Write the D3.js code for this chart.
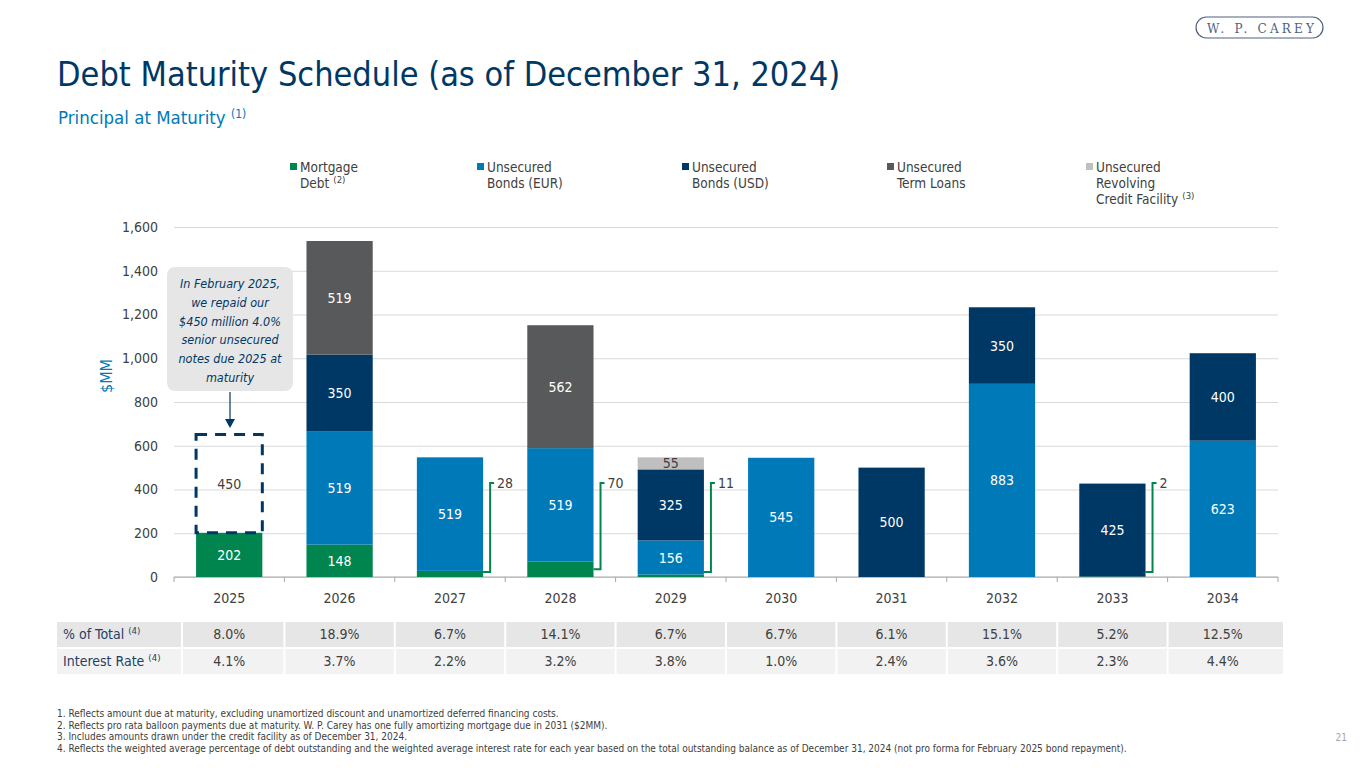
<!DOCTYPE html>
<html>
<head>
<meta charset="utf-8">
<script src="https://cdn.jsdelivr.net/npm/d3@7"></script>
<style>
  body { margin:0; background:#fff; }
  svg text { font-family:"DejaVu Sans Condensed","DejaVu Sans",sans-serif; font-stretch:condensed; }
</style>
</head>
<body>
<svg id="stage" width="1365" height="768"></svg>
<script>
// ---- data ----
const years        = ["2025","2026","2027","2028","2029","2030","2031","2032","2033","2034"];
const mortgage     = [202,148,28,70,11,0,0,0,2,0];
const bondsEur     = [0,519,519,519,156,545,0,883,0,623];
const bondsUsd     = [450,350,0,0,325,0,500,350,425,400];
const termLoans    = [0,519,0,562,0,0,0,0,0,0];
const revolver     = [0,0,0,0,55,0,0,0,0,0];
const repaidYears  = ["2025"];   // USD notes repaid Feb 2025, drawn dashed
const pctTotal     = ["8.0%","18.9%","6.7%","14.1%","6.7%","6.7%","6.1%","15.1%","5.2%","12.5%"];
const interestRate = ["4.1%","3.7%","2.2%","3.2%","3.8%","1.0%","2.4%","3.6%","2.3%","4.4%"];
const yTicks       = [0,200,400,600,800,1000,1200,1400,1600];

const seriesKeys   = ["mortgage","eur","usd","term","revolver"];
const seriesNames  = [["Mortgage","Debt"],["Unsecured","Bonds (EUR)"],["Unsecured","Bonds (USD)"],["Unsecured","Term Loans"],["Unsecured","Revolving","Credit Facility"]];
const seriesSup    = ["(2)","","","","(3)"];
const footnotes = [
  "1. Reflects amount due at maturity, excluding unamortized discount and unamortized deferred financing costs.",
  "2. Reflects pro rata balloon payments due at maturity. W. P. Carey has one fully amortizing mortgage due in 2031 ($2MM).",
  "3. Includes amounts drawn under the credit facility as of December 31, 2024.",
  "4. Reflects the weighted average percentage of debt outstanding and the weighted average interest rate for each year based on the total outstanding balance as of December 31, 2024 (not pro forma for February 2025 bond repayment)."
];
const calloutLines = ["In February 2025,","we repaid our","$450 million 4.0%","senior unsecured","notes due 2025 at","maturity"];

(function(){
  const svg = d3.select("#stage");
  const NAVY="#003865", BLUE="#0079b8", GREEN="#00854f", GRAY="#58595b", LIGHT="#bfbfbf", TXT="#404040";
  const color = d3.scaleOrdinal().domain(seriesKeys).range([GREEN,BLUE,NAVY,GRAY,LIGHT]);

  // ---- header ----
  svg.append("text").attr("x",57).attr("y",86)
    .attr("fill",NAVY).style("font-size","34px").text("Debt Maturity Schedule (as of December 31, 2024)");
  const sub = svg.append("text").attr("x",58).attr("y",124).attr("fill",BLUE).style("font-size","18.5px");
  sub.append("tspan").text("Principal at Maturity ");
  sub.append("tspan").attr("dy",-6).style("font-size","12px").text("(1)");

  // logo
  const logo = svg.append("g");
  logo.append("rect").attr("x",1196).attr("y",17).attr("width",127).attr("height",21).attr("rx",10.5)
    .attr("fill","none").attr("stroke","#4f6280").attr("stroke-width",1.2);
  logo.append("text").attr("x",1207).attr("y",32.5)
    .attr("textLength",107).attr("lengthAdjust","spacing")
    .attr("fill","#4f6280").style("font-family","'DejaVu Serif','Liberation Serif',serif").style("font-stretch","normal")
    .style("font-size","12px").text("W. P. CAREY");

  svg.append("text").attr("x",1347).attr("y",741).attr("text-anchor","end").attr("fill","#a6a6a6")
    .style("font-size","10px").text("21");

  // ---- scales ----
  const x = d3.scaleBand().domain(years).range([174,1278]).paddingInner(0.4).paddingOuter(0.2);
  const y = d3.scaleLinear().domain([0,1600]).range([577,227]);

  // gridlines + y labels
  const gy = svg.append("g").attr("transform","translate(174,0)")
    .call(d3.axisLeft(y).tickValues(yTicks).tickSize(-1104).tickFormat(d3.format(",")).tickPadding(16));
  gy.select(".domain").remove();
  gy.selectAll(".tick line").attr("stroke","#d9d9d9");
  gy.selectAll(".tick text").attr("fill",TXT).style("font-size","14px");

  // x axis with ticks at category boundaries
  const gx = svg.append("g").attr("transform","translate(0,577)");
  gx.append("line").attr("x1",174).attr("x2",1278).attr("stroke","#a6a6a6");
  const step = x.step(), bw = x.bandwidth();
  const bounds = years.map(d => x(d) - (step-bw)/2).concat([x(years[9]) + bw + (step-bw)/2]);
  gx.selectAll("line.tk").data(bounds).join("line").attr("class","tk")
    .attr("x1",d=>d).attr("x2",d=>d).attr("y1",0).attr("y2",5).attr("stroke","#a6a6a6");
  gx.selectAll("text").data(years).join("text")
    .attr("x",d=>x(d)+bw/2).attr("y",26).attr("text-anchor","middle")
    .attr("fill",TXT).style("font-size","14px").text(d=>d);

  svg.append("text").attr("transform","translate(112,376) rotate(-90)").attr("text-anchor","middle")
    .attr("fill",BLUE).style("font-size","16px").text("$MM");

  // ---- stacked bars ----
  const rows = years.map((yr,i)=>({year:yr, mortgage:mortgage[i], eur:bondsEur[i], usd:bondsUsd[i], term:termLoans[i], revolver:revolver[i]}));
  const stacked = d3.stack().keys(seriesKeys)(rows);

  const gBars = svg.append("g");
  stacked.forEach(layer=>{
    const key = layer.key;
    layer.forEach(seg=>{
      const v = seg[1]-seg[0];
      if(v<=0) return;
      const yr = seg.data.year;
      const dashed = key==="usd" && repaidYears.includes(yr);
      const rect = gBars.append("rect")
        .attr("x",x(yr)).attr("width",bw)
        .attr("y",y(seg[1])).attr("height",y(seg[0])-y(seg[1]));
      if(dashed){
        rect.attr("fill","none").attr("stroke",NAVY).attr("stroke-width",3).attr("stroke-dasharray","11 8");
      } else {
        rect.attr("fill",color(key));
      }
      const cx = x(yr)+bw/2, cy = (y(seg[0])+y(seg[1]))/2;
      if(key==="mortgage" && v<100){
        // bracket label beside the bar
        const bx = x(yr)+bw+7, yb = Math.min(y(0)-5, cy), yt = y(430);
        gBars.append("path")
          .attr("d",`M${x(yr)+bw},${yb}H${bx}V${yt}H${bx+4}`)
          .attr("fill","none").attr("stroke",GREEN).attr("stroke-width",2);
        gBars.append("text").attr("x",bx+7).attr("y",yt+5).attr("fill",TXT)
          .style("font-size","14px").text(v);
      } else {
        gBars.append("text").attr("x",cx).attr("y",cy+5).attr("text-anchor","middle")
          .attr("fill",(dashed||key==="revolver")?TXT:"#fff").style("font-size","14px").text(v);
      }
    });
  });

  // ---- legend ----
  const legX = [300,487,692,897,1096];
  const gLeg = svg.append("g");
  seriesKeys.forEach((k,i)=>{
    gLeg.append("rect").attr("x",legX[i]-10).attr("y",163).attr("width",7).attr("height",7).attr("fill",color(k));
    const t = gLeg.append("text").attr("fill",TXT).style("font-size","13.5px");
    seriesNames[i].forEach((ln,j)=>{
      t.append("tspan").attr("x",legX[i]).attr("y",172+j*16).text(ln);
      if(j===seriesNames[i].length-1 && seriesSup[i]){
        t.append("tspan").attr("dx",4).attr("dy",-5).style("font-size","9.5px").text(seriesSup[i]);
      }
    });
  });

  // ---- callout ----
  const gc = svg.append("g");
  gc.append("rect").attr("x",167).attr("y",267).attr("width",126).attr("height",124).attr("rx",8).attr("fill","#e6e6e6");
  gc.selectAll("text").data(calloutLines).join("text")
    .attr("x",230).attr("y",(d,i)=>288+i*18.8).attr("text-anchor","middle")
    .attr("fill",NAVY).style("font-size","12.5px").style("font-style","italic").text(d=>d);
  gc.append("line").attr("x1",230).attr("x2",230).attr("y1",392).attr("y2",420).attr("stroke",NAVY).attr("stroke-width",1.2);
  gc.append("path").attr("d","M225,419L235,419L230,428Z").attr("fill",NAVY);

  // ---- table ----
  const tRows = [{label:"% of Total", vals:pctTotal, fill:"#e6e6e6"},{label:"Interest Rate", vals:interestRate, fill:"#f2f2f2"}];
  const gt = svg.append("g");
  tRows.forEach((r,ri)=>{
    const top = 622 + ri*27, h = 25;
    gt.append("rect").attr("x",57).attr("y",top).attr("width",124).attr("height",h).attr("fill",r.fill);
    const lt = gt.append("text").attr("x",63).attr("y",top+17).attr("fill","#1f3f66").style("font-size","14px");
    lt.append("tspan").text(r.label+" ");
    lt.append("tspan").attr("dy",-5).style("font-size","9.5px").text("(4)");
    years.forEach((yr,i)=>{
      const x0 = Math.max(183, bounds[i]+1), x1 = i===9 ? 1283 : bounds[i+1]-1;
      gt.append("rect").attr("x",x0).attr("y",top).attr("width",x1-x0).attr("height",h).attr("fill",r.fill);
      gt.append("text").attr("x",x(yr)+bw/2).attr("y",top+17).attr("text-anchor","middle")
        .attr("fill",TXT).style("font-size","14px").text(r.vals[i]);
    });
  });

  // ---- footnotes ----
  svg.append("g").selectAll("text").data(footnotes).join("text")
    .attr("x",57).attr("y",(d,i)=>717+i*11.5).attr("fill",TXT).style("font-size","10px").text(d=>d);
})();
</script>
</body>
</html>
